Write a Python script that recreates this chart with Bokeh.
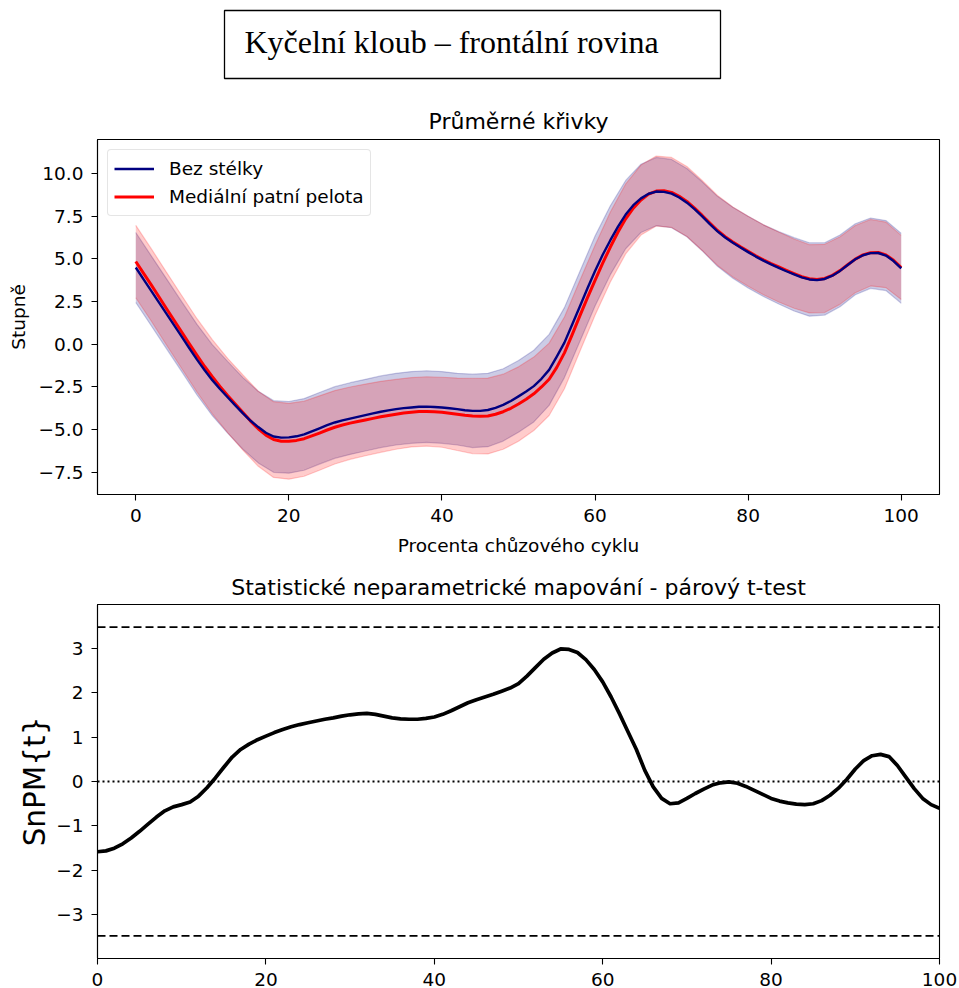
from bokeh.plotting import figure
from bokeh.layouts import column
from bokeh.models import (Range1d, FixedTicker, CustomJSTickFormatter, Legend, LegendItem,
                          Span, BoxAnnotation, Label, ColumnDataSource)
from bokeh.embed import file_html
from bokeh.resources import INLINE

# ---------------- data ----------------
pct = list(range(0, 101))          # 1 % steps for the mean / SnPM curves
pct_band = list(range(0, 101, 2))  # 2 % steps for the SD bands

bez_mean = [4.5, 3.82, 3.15, 2.47, 1.8, 1.12, 0.45, -0.23, -0.9, -1.52,
            -2.1, -2.62, -3.1, -3.58, -4.05, -4.48, -4.85, -5.18, -5.4, -5.47,
            -5.45, -5.39, -5.28, -5.1, -4.92, -4.74, -4.58, -4.46, -4.35, -4.25,
            -4.15, -4.05, -3.95, -3.87, -3.8, -3.74, -3.7, -3.66, -3.65, -3.67,
            -3.7, -3.75, -3.8, -3.86, -3.9, -3.9, -3.85, -3.72, -3.55, -3.32,
            -3.05, -2.77, -2.45, -2.02, -1.5, -0.72, 0.1, 1.15, 2.2, 3.27,
            4.3, 5.25, 6.1, 6.9, 7.6, 8.15, 8.55, 8.82, 8.95, 8.93,
            8.83, 8.6, 8.3, 7.92, 7.5, 7.04, 6.62, 6.26, 5.95, 5.67,
            5.4, 5.14, 4.9, 4.68, 4.48, 4.28, 4.1, 3.92, 3.8, 3.76,
            3.83, 4.02, 4.3, 4.65, 4.98, 5.22, 5.34, 5.35, 5.2, 4.88,
            4.45]

pel_mean = [4.85, 4.17, 3.5, 2.8, 2.1, 1.41, 0.72, 0.03, -0.65, -1.3,
            -1.9, -2.47, -3.0, -3.5, -4.0, -4.5, -4.95, -5.32, -5.58, -5.68,
            -5.68, -5.63, -5.53, -5.37, -5.2, -5.02, -4.86, -4.73, -4.62, -4.52,
            -4.43, -4.34, -4.25, -4.17, -4.1, -4.03, -3.98, -3.94, -3.93, -3.95,
            -3.98, -4.04, -4.1, -4.16, -4.2, -4.22, -4.2, -4.1, -3.95, -3.75,
            -3.5, -3.22, -2.9, -2.5, -2.05, -1.35, -0.5, 0.55, 1.65, 2.72,
            3.75, 4.75, 5.7, 6.58, 7.35, 7.98, 8.45, 8.8, 8.98, 9.0,
            8.9, 8.67, 8.37, 7.98, 7.55, 7.1, 6.67, 6.31, 6.0, 5.71,
            5.45, 5.19, 4.95, 4.73, 4.53, 4.33, 4.14, 3.96, 3.84, 3.8,
            3.86, 4.04, 4.32, 4.66, 4.99, 5.24, 5.37, 5.38, 5.24, 4.92,
            4.5]

bez_band_mean = [4.5, 3.15, 1.8, 0.45, -0.9, -2.1,
                 -3.1, -4.05, -4.85, -5.4, -5.45,
                 -5.28, -4.92, -4.58, -4.35, -4.15,
                 -3.95, -3.8, -3.7, -3.65, -3.7,
                 -3.8, -3.9, -3.85, -3.55, -3.05,
                 -2.45, -1.5, 0.1, 2.2, 4.3,
                 6.1, 7.6, 8.55, 8.95, 8.83,
                 8.3, 7.5, 6.62, 5.95, 5.4,
                 4.9, 4.48, 4.1, 3.8, 3.83,
                 4.3, 4.98, 5.34, 5.2, 4.45]

bez_sd = [2.05, 2.05, 2.05, 2.05, 2.07, 2.08,
          2.1, 2.1, 2.1, 2.1, 2.1,
          2.1, 2.1, 2.1, 2.1, 2.1,
          2.1, 2.1, 2.1, 2.1, 2.1,
          2.1, 2.15, 2.15, 2.12, 2.1,
          2.1, 2.08, 2.05, 2.05, 2.05,
          2.02, 2.0, 2.0, 2.0, 2.0,
          2.0, 2.02, 2.05, 2.08, 2.1,
          2.1, 2.12, 2.15, 2.15, 2.12,
          2.1, 2.08, 2.06, 2.05, 2.05]

pel_band_mean = [4.85, 3.5, 2.1, 0.72, -0.65, -1.9,
                 -3.0, -4.0, -4.95, -5.58, -5.68,
                 -5.53, -5.2, -4.86, -4.62, -4.43,
                 -4.25, -4.1, -3.98, -3.93, -3.98,
                 -4.1, -4.2, -4.2, -3.95, -3.5,
                 -2.9, -2.05, -0.5, 1.65, 3.75,
                 5.7, 7.35, 8.45, 8.98, 8.9,
                 8.37, 7.55, 6.67, 6.0, 5.45,
                 4.95, 4.53, 4.14, 3.84, 3.86,
                 4.32, 4.99, 5.37, 5.24, 4.5]

pel_sd = [2.12, 2.12, 2.13, 2.14, 2.15, 2.17,
          2.18, 2.2, 2.2, 2.22, 2.22,
          2.2, 2.18, 2.15, 2.12, 2.1,
          2.08, 2.05, 2.03, 2.03, 2.05,
          2.12, 2.2, 2.22, 2.2, 2.18,
          2.15, 2.12, 2.1, 2.08, 2.05,
          2.05, 2.05, 2.05, 2.05, 2.05,
          2.05, 2.05, 2.05, 2.05, 2.05,
          2.05, 2.05, 2.03, 2.0, 2.0,
          1.98, 1.97, 1.95, 1.92, 1.88]

snpm_t = [-1.58, -1.56, -1.5, -1.4, -1.27, -1.12, -0.96, -0.8, -0.66, -0.57,
          -0.52, -0.46, -0.33, -0.14, 0.08, 0.32, 0.55, 0.72, 0.84, 0.94,
          1.02, 1.1, 1.17, 1.23, 1.28, 1.32, 1.36, 1.4, 1.43, 1.47,
          1.5, 1.52, 1.53, 1.51, 1.47, 1.43, 1.41, 1.4, 1.4, 1.42,
          1.45, 1.51, 1.59, 1.68, 1.77, 1.84, 1.9, 1.96, 2.03, 2.1,
          2.2, 2.37, 2.56, 2.75, 2.89, 2.98, 2.97, 2.9, 2.74, 2.52,
          2.24, 1.9, 1.52, 1.12, 0.72, 0.25, -0.12, -0.38, -0.5, -0.48,
          -0.38, -0.27, -0.17, -0.08, -0.03, -0.01, -0.04, -0.11, -0.2, -0.29,
          -0.38, -0.44, -0.48, -0.51, -0.52, -0.5, -0.43, -0.31, -0.15, 0.05,
          0.28, 0.47, 0.58, 0.61, 0.56, 0.36, 0.1, -0.16, -0.38, -0.52,
          -0.6]

snpm_threshold = 3.47

x_ticks = [0, 20, 40, 60, 80, 100]
top_y_ticks = [-7.5, -5.0, -2.5, 0.0, 2.5, 5.0, 7.5, 10.0]
bot_y_ticks = [-3, -2, -1, 0, 1, 2, 3]

FONT = "DejaVu Sans"
LBL = "18.5px"
TTL = "22px"

# ---------------- helpers ----------------
def style(p):
    p.xgrid.visible = False
    p.ygrid.visible = False
    p.outline_line_color = "black"
    p.outline_line_width = 1.1
    p.outline_line_alpha = 1.0
    p.background_fill_color = "white"
    p.border_fill_color = "white"
    for ax in p.axis:
        ax.axis_line_color = "black"
        ax.axis_line_width = 1.1
        ax.major_tick_line_color = "black"
        ax.major_tick_line_width = 1.1
        ax.major_tick_out = 6
        ax.major_tick_in = 0
        ax.minor_tick_line_color = None
        ax.major_label_text_font = FONT
        ax.major_label_text_font_size = LBL
        ax.major_label_text_color = "black"
        ax.major_label_standoff = 8
        ax.axis_label_text_font = FONT
        ax.axis_label_text_font_size = LBL
        ax.axis_label_text_font_style = "normal"
        ax.axis_label_text_color = "black"
    p.title.text_font = FONT
    p.title.text_font_size = TTL
    p.title.text_font_style = "normal"
    p.title.text_color = "black"
    p.title.align = "center"
    p.title.vertical_align = "middle"

# ---------------- title box (x in page pixels, frame aligned 97..939) ----------------
p0 = figure(width=959, height=100, x_range=Range1d(97, 939), y_range=Range1d(0, 100),
            min_border_left=97, min_border_right=20, min_border_top=0, min_border_bottom=0,
            toolbar_location=None, output_backend="svg",
            x_axis_location=None, y_axis_location=None)
p0.xgrid.visible = False
p0.ygrid.visible = False
p0.outline_line_color = None
p0.add_layout(BoxAnnotation(left=224, right=720, top=90, bottom=22,
                            fill_color=None, line_color="black", line_alpha=1.0,
                            line_width=1.3))
p0.add_layout(Label(x=244, y=59, text="Kyčelní kloub – frontální rovina",
                    text_font="Liberation Serif", text_font_size="32px",
                    text_baseline="middle", text_color="black"))

# ---------------- mean curves ----------------
band_src = ColumnDataSource(dict(
    x=pct_band,
    bez_lo=[m - s for m, s in zip(bez_band_mean, bez_sd)],
    bez_hi=[m + s for m, s in zip(bez_band_mean, bez_sd)],
    pel_lo=[m - s for m, s in zip(pel_band_mean, pel_sd)],
    pel_hi=[m + s for m, s in zip(pel_band_mean, pel_sd)],
))
mean_src = ColumnDataSource(dict(x=pct, bez=bez_mean, pel=pel_mean))

p1 = figure(width=959, height=470, x_range=Range1d(-5, 105), y_range=Range1d(-8.8, 12.0),
            min_border_left=97, min_border_right=20, min_border_top=39, min_border_bottom=76,
            toolbar_location=None, output_backend="svg", title="Průměrné křivky")
style(p1)
p1.title.standoff = 10

NAVY = "#000080"
RED = "#ff0000"
p1.varea(x="x", y1="bez_lo", y2="bez_hi", source=band_src, fill_color=NAVY, fill_alpha=0.2)
p1.line(x="x", y="bez_lo", source=band_src, line_color=NAVY, line_alpha=0.2, line_width=1.2)
p1.line(x="x", y="bez_hi", source=band_src, line_color=NAVY, line_alpha=0.2, line_width=1.2)
p1.varea(x="x", y1="pel_lo", y2="pel_hi", source=band_src, fill_color=RED, fill_alpha=0.2)
p1.line(x="x", y="pel_lo", source=band_src, line_color=RED, line_alpha=0.2, line_width=1.2)
p1.line(x="x", y="pel_hi", source=band_src, line_color=RED, line_alpha=0.2, line_width=1.2)
r_pel = p1.line(x="x", y="pel", source=mean_src, line_color=RED, line_width=3.0, line_join="round")
r_bez = p1.line(x="x", y="bez", source=mean_src, line_color=NAVY, line_width=2.4, line_join="round")

p1.xaxis.ticker = FixedTicker(ticks=x_ticks)
p1.yaxis.ticker = FixedTicker(ticks=top_y_ticks)
p1.xaxis.formatter = CustomJSTickFormatter(code="return tick.toFixed(0).replace('-', '\u2212');")
p1.yaxis.formatter = CustomJSTickFormatter(code="return tick.toFixed(1).replace('-', '\u2212');")
p1.xaxis.axis_label = "Procenta chůzového cyklu"
p1.yaxis.axis_label = "Stupně"
p1.xaxis.axis_label_standoff = 10
p1.yaxis.axis_label_standoff = 7

legend = Legend(items=[LegendItem(label="Bez stélky", renderers=[r_bez]),
                       LegendItem(label="Mediální patní pelota", renderers=[r_pel])],
                location="top_left")
legend.margin = 10
legend.padding = 6
legend.spacing = 3
legend.glyph_width = 40
legend.glyph_height = 25
legend.label_height = 25
legend.label_standoff = 15
legend.label_text_font = FONT
legend.label_text_font_size = LBL
legend.label_text_color = "black"
legend.border_line_color = "#cccccc"
legend.border_line_width = 1
legend.background_fill_alpha = 0.8
if "border_radius" in Legend.properties():
    legend.border_radius = 4
p1.add_layout(legend)

# ---------------- SnPM ----------------
src2 = ColumnDataSource(dict(x=pct, t=snpm_t))
p2 = figure(width=959, height=418, x_range=Range1d(0, 100), y_range=Range1d(-3.98, 3.98),
            min_border_left=97, min_border_right=20, min_border_top=32, min_border_bottom=30,
            toolbar_location=None, output_backend="svg",
            title="Statistické neparametrické mapování - párový t-test")
style(p2)
p2.title.standoff = 7
p2.add_layout(Span(location=snpm_threshold, dimension="width", line_color="black",
                   line_width=1.8, line_dash="8 4"))
p2.add_layout(Span(location=-snpm_threshold, dimension="width", line_color="black",
                   line_width=1.8, line_dash="8 4"))
p2.add_layout(Span(location=0, dimension="width", line_color="black",
                   line_width=1.8, line_dash="2 3"))
p2.line(x="x", y="t", source=src2, line_color="black", line_width=3.7, line_join="round")
p2.xaxis.ticker = FixedTicker(ticks=x_ticks)
p2.yaxis.ticker = FixedTicker(ticks=bot_y_ticks)
p2.xaxis.formatter = CustomJSTickFormatter(code="return tick.toFixed(0).replace('-', '\u2212');")
p2.yaxis.formatter = CustomJSTickFormatter(code="return tick.toFixed(0).replace('-', '\u2212');")
p2.yaxis.axis_label = "SnPM{t}"
p2.yaxis.axis_label_text_font_size = "29.5px"
p2.yaxis.axis_label_standoff = 1

layout = column(p0, p1, p2, spacing=0)
open("out.html", "w").write(file_html(layout, INLINE))
